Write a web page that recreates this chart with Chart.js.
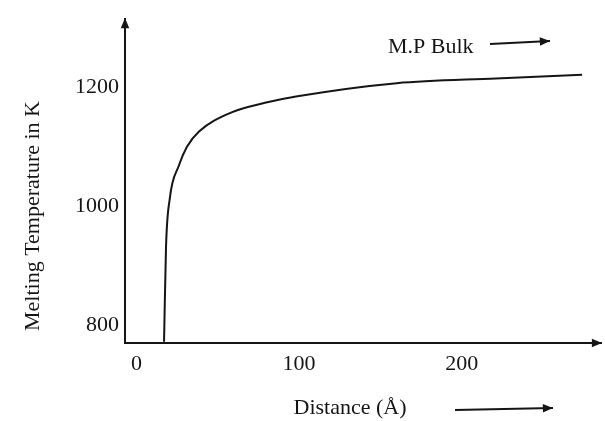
<!DOCTYPE html>
<html>
<head>
<meta charset="utf-8">
<script src="https://cdn.jsdelivr.net/npm/chart.js@4"></script>
<style>
  body { margin: 0; background: #fff; }
  #wrap { width: 605px; height: 421px; }
</style>
</head>
<body>
<div id="wrap"><canvas id="myChart"></canvas></div>
<script>
const distance = [17, 18.2, 20.5, 26, 31, 38.5, 58.5, 79, 99, 160, 221, 274];
const meltingTemp = [772, 930, 1012, 1067, 1099, 1125, 1157, 1173, 1184, 1206, 1214, 1220];
const xTicks = [0, 100, 200];
const yTicks = [800, 1000, 1200];

const ink = '#151515';
const serif = "'Liberation Serif', 'DejaVu Serif', serif";

const arrows = {
    id: 'arrows',
    afterDraw(chart) {
        const c = chart.ctx;
        const a = chart.chartArea;
        c.save();
        c.strokeStyle = ink;
        c.fillStyle = ink;
        c.lineWidth = 2;
        function arrow(x1, y1, x2, y2) {
            c.beginPath();
            c.moveTo(x1, y1);
            c.lineTo(x2, y2);
            c.stroke();
            const ang = Math.atan2(y2 - y1, x2 - x1);
            c.beginPath();
            c.moveTo(x2, y2);
            c.lineTo(x2 - 11 * Math.cos(ang - 0.4), y2 - 11 * Math.sin(ang - 0.4));
            c.lineTo(x2 - 11 * Math.cos(ang + 0.4), y2 - 11 * Math.sin(ang + 0.4));
            c.closePath();
            c.fill();
        }
        // axis arrows
        arrow(a.left, a.top + 10, a.left, a.top - 2);
        arrow(a.right - 10, a.bottom, a.right + 2, a.bottom);
        // y axis title, placed a bit below the centre like the scan
        c.font = '22px ' + serif;
        c.textAlign = 'center';
        c.textBaseline = 'middle';
        c.save();
        c.translate(33, 216);
        c.rotate(-Math.PI / 2);
        c.fillText('Melting Temperature in K', 0, 0);
        c.restore();
        // M.P Bulk label
        c.textAlign = 'left';
        c.fillText('M.P Bulk', 388, 47);
        arrow(490, 44, 550, 41);
        // x axis title with its arrow
        c.textAlign = 'center';
        c.fillText('Distance (Å)', 350, 408);
        arrow(455, 410, 553, 408);
        c.restore();
    }
};

new Chart(document.getElementById('myChart'), {
    type: 'scatter',
    data: {
        datasets: [{
            data: distance.map((d, i) => ({ x: d, y: meltingTemp[i] })),
            showLine: true,
            borderColor: ink,
            borderWidth: 2,
            pointRadius: 0,
            cubicInterpolationMode: 'monotone'
        }]
    },
    options: {
        responsive: true,
        maintainAspectRatio: false,
        animation: false,
        layout: { padding: { top: 20, right: 5 } },
        plugins: { legend: { display: false }, tooltip: { enabled: false } },
        scales: {
            x: {
                type: 'linear',
                min: -7,
                max: 285,
                afterBuildTicks: s => { s.ticks = xTicks.map(v => ({ value: v })); },
                afterFit: s => { s.height = 78; },
                grid: { display: false, drawTicks: false },
                border: { display: true, color: ink, width: 2 },
                ticks: { color: ink, padding: 8, font: { family: serif, size: 22 }, callback: v => String(v) }
            },
            y: {
                min: 770,
                max: 1312,
                afterBuildTicks: s => { s.ticks = yTicks.map(v => ({ value: v })); },
                afterFit: s => { s.width = 125; },
                grid: { display: false, drawTicks: false },
                border: { display: true, color: ink, width: 2 },
                ticks: { color: ink, padding: 6, font: { family: serif, size: 22 }, callback: v => String(v) }
            }
        }
    },
    plugins: [arrows]
});
</script>
</body>
</html>
